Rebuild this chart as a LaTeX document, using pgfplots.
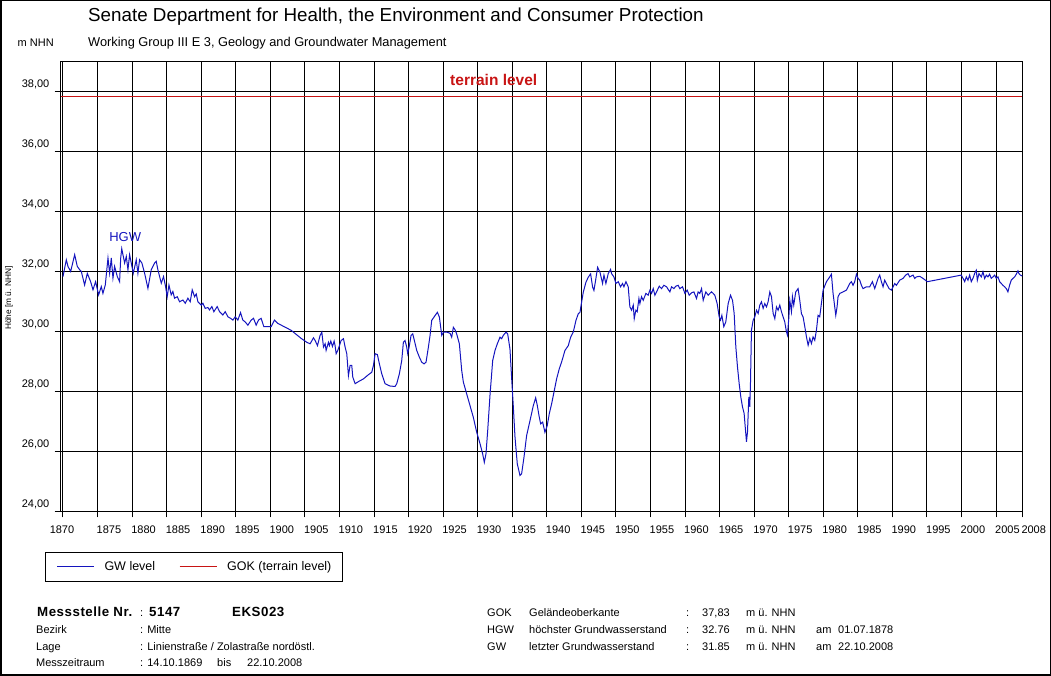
\documentclass[border=0pt]{standalone}
\usepackage{pgfplots}
\usepackage{pgfplotstable}
\pgfplotsset{compat=1.18}
\usepackage{fontspec}
\setmainfont{Liberation Sans}

\definecolor{gwblue}{RGB}{20,20,190}
\definecolor{gokred}{RGB}{200,20,20}
\newcommand{\fs}[1]{\fontsize{#1}{#1}\selectfont}
\newcommand{\boldrow}{\bfseries\fs{13.3}\addfontfeatures{LetterSpace=4}}

% groundwater level, Messstelle 5147 (m above NHN)
\pgfplotstableread{
year level
1870.00 31.83
1870.48 32.39
1870.72 32.17
1871.11 32.00
1871.69 32.56
1872.07 32.17
1872.41 32.06
1872.65 32.00
1873.13 31.55
1873.52 31.94
1874.00 31.66
1874.34 31.39
1874.72 31.66
1875.16 31.22
1875.54 31.50
1875.78 31.27
1876.12 31.55
1876.51 32.45
1876.75 31.94
1876.99 32.45
1877.23 31.78
1877.47 32.17
1877.86 31.83
1878.19 31.66
1878.35 32.45
1878.50 32.76
1878.92 32.28
1879.16 32.50
1879.40 32.06
1879.64 32.56
1879.88 32.28
1880.17 31.94
1880.60 32.39
1880.84 31.94
1881.08 32.39
1881.42 32.28
1881.81 31.94
1882.29 31.44
1882.77 32.06
1883.25 32.28
1883.49 32.34
1883.73 32.06
1884.22 31.61
1884.55 31.83
1884.84 31.50
1885.08 31.16
1885.33 31.55
1885.66 31.22
1885.90 31.33
1886.14 31.11
1886.53 31.16
1886.87 30.99
1887.35 31.05
1887.69 30.94
1888.07 31.11
1888.41 30.99
1888.70 31.39
1889.04 31.16
1889.28 31.25
1889.52 30.99
1890.00 30.88
1890.24 30.94
1890.58 30.77
1890.96 30.80
1891.20 30.72
1891.54 30.83
1891.83 30.66
1892.31 30.83
1892.65 30.66
1893.13 30.55
1893.47 30.66
1893.86 30.49
1894.24 30.44
1894.58 30.38
1894.92 30.49
1895.30 30.38
1895.69 30.63
1896.02 30.38
1896.36 30.32
1896.75 30.21
1897.23 30.38
1897.57 30.44
1897.95 30.21
1898.29 30.38
1898.67 30.44
1899.06 30.16
1899.64 30.16
1900.12 30.16
1900.60 30.38
1901.08 30.27
1903.01 30.04
1904.46 29.77
1905.28 29.64
1905.76 29.59
1906.24 29.79
1906.48 29.70
1906.82 29.53
1907.20 29.87
1907.45 29.98
1907.69 29.48
1907.93 29.59
1908.07 29.37
1908.41 29.64
1908.55 29.53
1908.75 29.68
1908.99 29.50
1909.23 29.68
1909.37 29.53
1909.52 29.26
1909.76 29.37
1910.00 29.53
1910.24 29.70
1910.58 29.76
1910.82 29.48
1911.06 29.26
1911.30 28.53
1911.54 28.87
1911.78 28.87
1911.93 28.48
1912.27 28.26
1912.75 28.33
1913.47 28.42
1914.19 28.56
1914.67 28.64
1914.92 28.87
1915.16 29.26
1915.49 29.23
1915.78 28.92
1916.12 28.59
1916.60 28.26
1917.33 28.18
1918.05 28.17
1918.29 28.26
1918.67 28.59
1919.01 29.03
1919.25 29.64
1919.49 29.70
1919.73 29.48
1919.88 29.26
1920.12 29.53
1920.36 29.87
1920.60 29.92
1920.84 29.70
1921.18 29.37
1921.57 29.14
1921.90 28.98
1922.24 28.92
1922.53 28.98
1922.87 29.48
1923.11 29.87
1923.35 30.37
1923.83 30.53
1924.17 30.64
1924.46 30.48
1924.80 29.87
1925.04 29.98
1925.52 29.98
1926.00 29.94
1926.24 29.81
1926.48 30.14
1926.72 30.06
1926.96 29.92
1927.35 29.59
1927.69 28.70
1927.93 28.31
1928.41 27.92
1928.89 27.53
1929.37 27.14
1929.86 26.64
1930.34 26.26
1930.72 25.92
1930.96 25.64
1931.20 25.92
1931.45 26.70
1931.78 27.87
1932.17 29.03
1932.51 29.37
1932.84 29.59
1933.23 29.81
1933.47 29.76
1933.71 29.87
1934.10 29.98
1934.34 29.92
1934.67 29.42
1934.92 28.42
1935.16 27.48
1935.40 26.48
1935.73 25.59
1936.12 25.20
1936.36 25.26
1936.70 25.81
1937.08 26.53
1937.57 27.03
1938.05 27.53
1938.39 27.79
1938.63 27.53
1938.87 27.20
1939.11 26.92
1939.40 26.98
1939.73 26.64
1940.07 26.87
1940.36 27.26
1940.70 27.59
1941.04 27.98
1941.42 28.42
1941.81 28.76
1942.14 28.98
1942.63 29.37
1943.11 29.53
1943.45 29.81
1943.83 29.98
1944.22 30.37
1944.55 30.59
1944.80 30.64
1945.04 30.98
1945.28 31.31
1945.66 31.64
1946.00 31.81
1946.34 31.92
1946.63 31.48
1946.82 31.37
1947.06 31.70
1947.35 32.14
1947.69 31.98
1948.07 31.60
1948.27 31.88
1948.55 31.60
1948.89 31.93
1949.23 32.07
1949.37 31.93
1949.71 31.82
1950.00 31.60
1950.34 31.66
1950.67 31.49
1950.96 31.60
1951.16 31.49
1951.45 31.66
1951.78 31.49
1952.02 30.82
1952.27 30.71
1952.51 30.88
1952.65 30.43
1952.89 30.71
1953.08 30.66
1953.33 31.10
1953.47 30.93
1953.71 31.16
1953.95 31.04
1954.34 31.27
1954.67 31.21
1954.92 31.38
1955.16 31.27
1955.40 31.43
1955.64 31.21
1955.88 31.32
1956.27 31.51
1956.60 31.43
1956.94 31.54
1957.33 31.49
1957.57 31.40
1957.81 31.32
1958.05 31.49
1958.39 31.43
1958.67 31.51
1959.01 31.54
1959.25 31.43
1959.64 31.49
1959.98 31.27
1960.31 31.38
1960.60 31.21
1960.94 31.29
1961.28 31.32
1961.66 31.10
1961.90 31.32
1962.14 31.27
1962.39 31.43
1962.63 31.04
1963.01 31.32
1963.35 31.21
1963.59 31.27
1963.83 31.32
1964.07 31.27
1964.31 31.21
1964.65 30.93
1964.94 30.49
1965.13 30.38
1965.33 30.54
1965.61 30.16
1965.90 30.32
1966.24 30.93
1966.58 31.21
1966.87 31.04
1967.11 30.60
1967.35 29.49
1967.59 28.82
1967.83 28.27
1968.07 27.82
1968.31 27.49
1968.55 27.27
1968.75 26.71
1968.89 26.32
1969.04 26.66
1969.23 27.82
1969.37 27.49
1969.47 28.27
1969.61 30.04
1969.86 30.38
1970.10 30.49
1970.34 30.71
1970.58 30.60
1970.82 30.88
1971.06 30.99
1971.30 30.77
1971.54 30.93
1971.78 30.82
1972.02 30.99
1972.27 31.32
1972.51 31.16
1972.75 30.60
1972.99 30.43
1973.23 30.82
1973.47 30.71
1973.71 30.88
1973.95 30.66
1974.19 30.49
1974.43 30.32
1974.67 29.99
1974.82 29.88
1975.01 30.43
1975.16 31.04
1975.40 30.66
1975.54 31.16
1975.73 30.88
1976.02 31.32
1976.36 31.43
1976.60 31.04
1976.84 30.60
1977.08 30.49
1977.33 30.16
1977.57 29.82
1977.81 29.54
1978.05 29.77
1978.29 29.60
1978.53 29.82
1978.77 29.71
1979.01 30.04
1979.25 30.54
1979.49 30.49
1979.73 30.93
1979.98 31.38
1980.46 31.66
1980.94 31.82
1981.18 31.91
1981.42 31.27
1981.66 30.82
1981.81 30.54
1982.00 30.82
1982.14 31.16
1982.39 31.27
1982.87 31.32
1983.35 31.38
1983.59 31.49
1983.83 31.60
1984.07 31.66
1984.31 31.54
1984.55 31.66
1984.80 31.91
1985.04 31.77
1985.28 31.71
1985.52 31.54
1985.76 31.43
1986.24 31.49
1986.72 31.49
1987.11 31.66
1987.45 31.43
1987.69 31.60
1987.93 31.77
1988.17 31.88
1988.41 31.66
1988.65 31.49
1988.89 31.71
1989.13 31.60
1989.52 31.43
1989.86 31.38
1990.10 31.49
1990.34 31.60
1990.58 31.54
1991.06 31.71
1991.54 31.77
1991.93 31.88
1992.27 31.93
1992.51 31.82
1992.99 31.88
1993.23 31.77
1993.47 31.82
1993.95 31.84
1994.43 31.77
1995.06 31.66
1999.98 31.88
2000.22 31.77
2000.46 31.66
2000.70 31.82
2000.94 31.71
2001.18 31.88
2001.42 31.66
2001.66 31.77
2001.90 31.93
2002.14 32.04
2002.29 31.71
2002.53 31.93
2002.87 31.82
2003.11 31.99
2003.35 31.77
2003.59 31.88
2003.83 31.82
2004.07 31.91
2004.31 31.77
2004.55 31.82
2004.80 31.88
2005.04 31.77
2005.28 31.82
2005.52 31.66
2005.76 31.60
2006.00 31.54
2006.24 31.49
2006.48 31.43
2006.72 31.32
2006.96 31.54
2007.20 31.71
2007.45 31.77
2007.69 31.82
2007.93 31.91
2008.17 32.02
2008.31 31.93
2008.51 31.88
2008.80 31.85
}\gwdata

\begin{document}
\begin{tikzpicture}[x=1pt,y=1pt]
\useasboundingbox (0pt,0pt) rectangle (1051pt,676pt);
\begin{axis}[
  at={(60.5pt,164.5pt)}, anchor=south west,
  scale only axis, width=961.8pt, height=450pt,
  xmin=1869.64, xmax=2008.8, ymin=24, ymax=39,
  axis line style={black, line width=1pt},
  tick pos=left, tick align=outside, major tick length=6pt,
  tick style={black, line width=1pt},
  xtick={1875,1880,1885,1890,1895,1900,1905,1910,1915,1920,1925,1930,1935,1940,1945,1950,1955,1960,1965,1970,1975,1980,1985,1990,1995,2000,2005,2008.8},
  xticklabels={1875,1880,1885,1890,1895,1900,1905,1910,1915,1920,1925,1930,1935,1940,1945,1950,1955,1960,1965,1970,1975,1980,1985,1990,1995,2000,2005,2008},
  extra x ticks={1870}, extra x tick labels={1870},
  extra x tick style={grid=major, xticklabel style={anchor=north, xshift=0pt}},
  ytick={24,26,28,30,32,34,36,38},
  grid=major, major grid style={black, line width=1pt},
  /pgf/number format/assume math mode=true,
  xticklabel style={anchor=north west, inner sep=0pt, xshift=-1pt, yshift=-8pt, font=\fs{11}},
  yticklabel style={anchor=base east, inner sep=0pt, xshift=-5pt, yshift=3.5pt, font=\fs{11},
    /pgf/number format/.cd, fixed, fixed zerofill, precision=2, use comma},
  legend columns=2,
  legend cell align=left,
  legend style={at={(axis description cs:-0.0161,-0.09)}, anchor=north west,
    draw=black, line width=1pt, inner xsep=11pt, inner ysep=9pt, font=\fs{12.5},
    nodes={inner sep=0pt},
    /tikz/every odd column/.append style={column sep=10pt},
    /tikz/every even column/.append style={column sep=24pt}},
  legend image code/.code={\draw[#1] (0pt,0pt) -- (37pt,0pt);},
  ylabel={Höhe [m ü. NHN]},
  ylabel style={at={(axis description cs:-0.0535,0.475)}, anchor=center, font=\fs{8.3}},
]
\addplot[gwblue, line width=1pt] table[x=year, y=level] {\gwdata};
\addlegendentry{GW level}
\addplot[gokred, line width=1pt] coordinates {(1869.64,37.83) (2008.8,37.83)};
\addlegendentry{GOK (terrain level)}
\node[gokred, font=\bfseries\fs{15.5}, anchor=west, inner sep=0pt] at (axis cs:1926.0,38.4) {terrain level};
\node[gwblue, font=\fs{13}, inner sep=0pt] at (axis cs:1879.0,33.15) {HGW};
\end{axis}

% header
\node[anchor=base west, inner sep=0pt, font=\fs{18.8}] at (88pt,654pt) {Senate Department for Health, the Environment and Consumer Protection};
\node[anchor=base west, inner sep=0pt, font=\fs{12.8}] at (88pt,629pt) {Working Group III E 3, Geology and Groundwater Management};
\node[anchor=base west, inner sep=0pt, font=\fs{11}] at (17.5pt,629pt) {m NHN};

% station information
\begin{scope}[every node/.style={anchor=base west, inner sep=0pt, font=\fs{11}}]
\node[font=\boldrow] at (37pt,59pt) {Messstelle Nr.};
\node at (140pt,59pt) {:};
\node[font=\boldrow] at (149pt,59pt) {5147};
\node[font=\boldrow] at (232pt,59pt) {EKS023};
\node at (36pt,42pt) {Bezirk};
\node at (140pt,42pt) {: Mitte};
\node at (36pt,25pt) {Lage};
\node at (140pt,25pt) {: Linienstraße / Zolastraße nordöstl.};
\node at (36pt,9pt) {Messzeitraum};
\node at (140pt,9pt) {: 14.10.1869};
\node at (217pt,9pt) {bis};
\node at (247pt,9pt) {22.10.2008};
\node at (487pt,59pt) {GOK};
\node at (529pt,59pt) {Geländeoberkante};
\node at (686pt,59pt) {:};
\node at (702pt,59pt) {37,83};
\node at (746pt,59pt) {m ü. NHN};
\node at (487pt,42pt) {HGW};
\node at (529pt,42pt) {höchster Grundwasserstand};
\node at (686pt,42pt) {:};
\node at (702pt,42pt) {32.76};
\node at (746pt,42pt) {m ü. NHN};
\node at (816pt,42pt) {am};
\node at (838pt,42pt) {01.07.1878};
\node at (487pt,25pt) {GW};
\node at (529pt,25pt) {letzter Grundwasserstand};
\node at (686pt,25pt) {:};
\node at (702pt,25pt) {31.85};
\node at (746pt,25pt) {m ü. NHN};
\node at (816pt,25pt) {am};
\node at (838pt,25pt) {22.10.2008};
\end{scope}

\draw[black, line width=1.5pt] (0.75pt,0.75pt) rectangle (1050.25pt,675.25pt);
\end{tikzpicture}
\end{document}
